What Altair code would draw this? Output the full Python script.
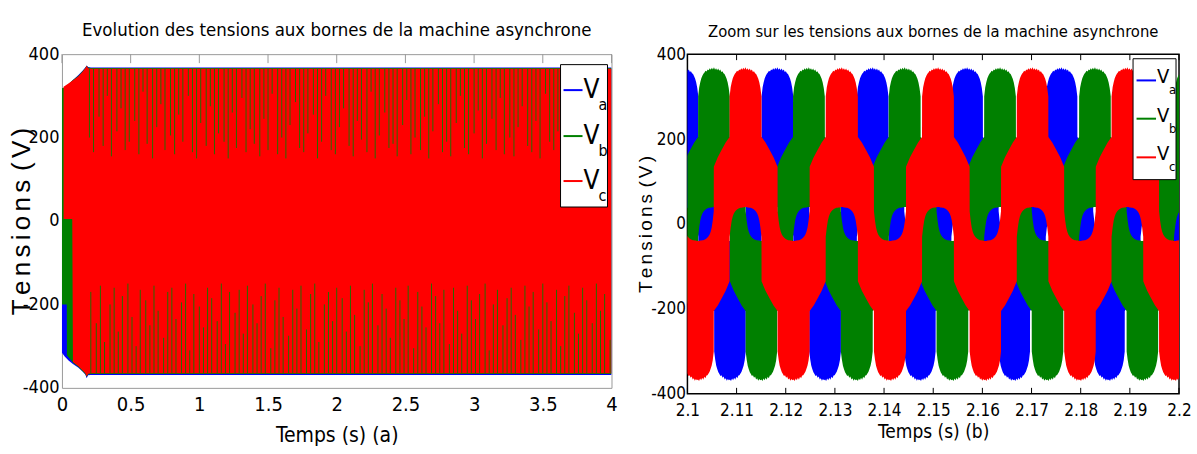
import altair as alt
import pandas as pd

FONT = "Liberation Sans Narrow, Arial Narrow, DejaVu Sans Condensed, Liberation Sans, Arial, sans-serif"
WIDE = "Liberation Sans, Arial, sans-serif"
BLUE, GREEN, RED = "#0000FF", "#008000", "#FF0000"
SP = "\u2006"

# ------------------------------------------------------------------
# (b) zoom 2.1 - 2.2 s : PWM band of each phase voltage
# ------------------------------------------------------------------
# centre of each positive block (s)
va_peaks = [2.0990, 2.1183, 2.1377, 2.1569, 2.1761, 2.1954]
vb_peaks = [2.0861, 2.1054, 2.1247, 2.1442, 2.1636, 2.1829, 2.2022]
vc_peaks = [2.0925, 2.1118, 2.1314, 2.1510, 2.1702, 2.1895, 2.2088]

# band of one phase over one period: electrical angle (deg, 0 = block centre),
# lower and upper edge of the switching band (V)
env_angle = [-180, -176, -172, -168, -164, -160, -156, -152, -148, -144, -140, -136, -132, -128, -124, -120.2,
             -120, -105, -90, -75, -60.2,
             -60, -56, -52, -48, -44, -40, -36, -32, -28, -24, -20, -16, -12, -8, -4, 0,
             4, 8, 12, 16, 20, 24, 28, 32, 36, 40, 44, 48, 52, 56, 60,
             60.2, 75, 90, 105, 120,
             120.2, 124, 128, 132, 136, 140, 144, 148, 152, 156, 160, 164, 168, 172, 176, 180]
env_lo = [-366, -370, -364, -368, -362, -367, -360, -363, -357, -356, -352, -348, -341, -333, -321, -300,
          -205, -192, -175, -157, -135,
          -30, -8, 8, 18, 25, 29, 32, 34, 36, 37, 38, 38, 39, 39, 40, 40,
          40, 39, 39, 38, 38, 37, 36, 34, 32, 29, 25, 18, 8, -8, -30,
          -135, -157, -175, -192, -205,
          -300, -319, -334, -342, -349, -353, -358, -356, -362, -359, -366, -363, -369, -365, -368, -366]
env_hi = [-40, -40, -39, -39, -38, -38, -37, -36, -34, -32, -29, -25, -18, -8, 8, 30,
          135, 157, 175, 192, 205,
          300, 322, 334, 343, 349, 354, 357, 361, 359, 364, 362, 367, 363, 368, 364, 369,
          363, 367, 362, 366, 361, 364, 358, 360, 355, 353, 348, 342, 333, 320, 300,
          205, 192, 175, 157, 135,
          30, 8, -8, -18, -25, -29, -32, -34, -36, -37, -38, -38, -39, -39, -40, -40]


def band_table(peaks):
    rows = []
    n = len(peaks)
    for k, c in enumerate(peaks):
        left = (c - peaks[k - 1]) / 2 if k > 0 else (peaks[1] - peaks[0]) / 2
        right = (peaks[k + 1] - c) / 2 if k < n - 1 else (c - peaks[k - 1]) / 2
        for a, lo, hi in zip(env_angle, env_lo, env_hi):
            half = left if a < 0 else right
            rows.append({"t": c + a / 180.0 * half, "lo": lo, "hi": hi})
    return pd.DataFrame(rows)


# ------------------------------------------------------------------
# (a) 0 - 4 s : envelopes of the three phases + visible stripes
# ------------------------------------------------------------------
a_blue_t = [0.0, 0.02, 0.05, 0.08, 0.12, 0.15, 0.17, 0.18, 0.19, 0.21, 4.0]
a_blue_hi = [302, 318, 328, 338, 350, 360, 368, 373, 369, 368, 368]
a_blue_lo = [-316, -325, -335, -343, -352, -361, -368, -377, -370, -369, -369]

a_green_t = [0.0, 0.035, 0.036, 0.08, 0.12, 0.15, 0.17, 0.18, 0.19, 0.21, 4.0]
a_green_hi = [318, 322, 325, 338, 348, 359, 367, 372, 368, 367, 367]
a_green_lo = [-200, -200, -322, -340, -350, -360, -367, -374, -368, -367, -367]

a_red_t = [0.012, 0.05, 0.075, 0.08, 0.12, 0.15, 0.17, 0.18, 0.19, 0.21, 4.0]
a_red_hi = [322, 330, 336, 337, 347, 358, 366, 372, 366, 365, 365]
a_red_lo = [5, 5, 5, -338, -348, -358, -365, -373, -366, -365, -365]

up_t = [0.20, 0.23, 0.27, 0.30, 0.33, 0.36, 0.40, 0.43, 0.46, 0.49, 0.53, 0.56, 0.59, 0.62, 0.66, 0.69,
        0.72, 0.75, 0.79, 0.82, 0.85, 0.88, 0.92, 0.95, 0.98, 1.01, 1.05, 1.08, 1.11, 1.14, 1.18, 1.21,
        1.24, 1.27, 1.31, 1.34, 1.37, 1.40, 1.44, 1.47, 1.50, 1.53, 1.57, 1.60, 1.63, 1.66, 1.70, 1.73,
        1.76, 1.79, 1.83, 1.86, 1.89, 1.92, 1.96, 1.99, 2.02, 2.05, 2.09, 2.12, 2.15, 2.18, 2.22, 2.25,
        2.28, 2.31, 2.35, 2.38, 2.41, 2.44, 2.48, 2.51, 2.54, 2.57, 2.61, 2.64, 2.67, 2.70, 2.74, 2.77,
        2.80, 2.83, 2.87, 2.90, 2.93, 2.96, 3.00, 3.03, 3.06, 3.09, 3.13, 3.16, 3.19, 3.22, 3.26, 3.29,
        3.32, 3.35, 3.39, 3.42, 3.45, 3.48, 3.52, 3.55, 3.58, 3.61, 3.65, 3.68, 3.71, 3.74, 3.78, 3.81,
        3.84, 3.87, 3.91, 3.94, 3.97]
up_end = [200, 165, 250, 180, 300, 155, 215, 270, 170, 190, 240, 160, 310, 185, 150, 225, 280, 170, 205, 160,
          255, 190, 300, 165, 150, 235, 180, 275, 160, 210, 190, 150, 260, 175, 295, 165, 220, 185, 155, 245,
          170, 305, 160, 200, 150, 230, 285, 175, 165, 210, 255, 150, 190, 300, 170, 160, 225, 270, 180, 155,
          240, 195, 165, 310, 150, 205, 260, 175, 185, 155, 230, 290, 160, 200, 170, 250, 150, 215, 280, 165,
          190, 155, 235, 300, 175, 160, 210, 265, 150, 185, 245, 170, 295, 160, 200, 155, 225, 275, 180, 165,
          240, 150, 305, 190, 170, 215, 260, 155, 185, 230, 165, 290, 150, 205, 250, 175, 160]

dn_t = [0.21, 0.25, 0.28, 0.31, 0.35, 0.38, 0.41, 0.44, 0.48, 0.51, 0.54, 0.57, 0.61, 0.64, 0.67, 0.70,
        0.74, 0.77, 0.80, 0.83, 0.87, 0.90, 0.93, 0.96, 1.00, 1.03, 1.06, 1.09, 1.13, 1.16, 1.19, 1.22,
        1.26, 1.29, 1.32, 1.35, 1.39, 1.42, 1.45, 1.48, 1.52, 1.55, 1.58, 1.61, 1.65, 1.68, 1.71, 1.74,
        1.78, 1.81, 1.84, 1.87, 1.91, 1.94, 1.97, 2.00, 2.04, 2.07, 2.10, 2.13, 2.17, 2.20, 2.23, 2.26,
        2.30, 2.33, 2.36, 2.39, 2.43, 2.46, 2.49, 2.52, 2.56, 2.59, 2.62, 2.65, 2.69, 2.72, 2.75, 2.78,
        2.82, 2.85, 2.88, 2.91, 2.95, 2.98, 3.01, 3.04, 3.08, 3.11, 3.14, 3.17, 3.21, 3.24, 3.27, 3.30,
        3.34, 3.37, 3.40, 3.43, 3.47, 3.50, 3.53, 3.56, 3.60, 3.63, 3.66, 3.69, 3.73, 3.76, 3.79, 3.82,
        3.86, 3.89, 3.92, 3.95, 3.99]
dn_end = [-170, -245, -155, -290, -200, -160, -265, -180, -150, -230, -300, -165, -190, -250, -155, -215,
          -280, -170, -160, -235, -195, -150, -310, -175, -205, -255, -160, -185, -240, -150, -295, -170,
          -220, -165, -270, -155, -200, -245, -180, -150, -305, -190, -160, -230, -275, -165, -210, -155,
          -260, -175, -150, -290, -200, -170, -240, -160, -185, -265, -155, -225, -300, -165, -195, -150,
          -250, -175, -210, -280, -160, -190, -235, -155, -305, -170, -205, -255, -150, -180, -245, -165,
          -295, -160, -215, -270, -155, -190, -235, -175, -150, -310, -200, -165, -250, -185, -160, -225,
          -285, -155, -205, -170, -260, -150, -195, -240, -165, -300, -180, -155, -220, -270, -160, -190,
          -245, -150, -215, -175, -285]
stripe_top = 365

a_ticks = [0, 0.5, 1, 1.5, 2, 2.5, 3, 3.5, 4]
b_ticks = [2.1, 2.11, 2.12, 2.13, 2.14, 2.15, 2.16, 2.17, 2.18, 2.19, 2.2]
v_ticks = [-400, -200, 0, 200, 400]

# ------------------------------------------------------------------
# helpers
# ------------------------------------------------------------------
def legend_layers(box, line_x, line_ys, v_x, v_dy, sub_dx, sub_dy, v_size, sub_size):
    one = pd.DataFrame({"d": [0]})
    out = [alt.Chart(one).mark_rect(fill="white", stroke="black", strokeWidth=1).encode(
        x=alt.value(box[0]), x2=alt.value(box[1]), y=alt.value(box[2]), y2=alt.value(box[3]))]
    for ly, col, sub in zip(line_ys, [BLUE, GREEN, RED], ["a", "b", "c"]):
        out.append(alt.Chart(one).mark_rule(color=col, strokeWidth=2).encode(
            x=alt.value(line_x[0]), x2=alt.value(line_x[1]), y=alt.value(ly)))
        out.append(alt.Chart(one).mark_text(font=FONT, fontSize=v_size, align="left",
                                            baseline="alphabetic", color="black").encode(
            x=alt.value(v_x), y=alt.value(ly + v_dy), text=alt.value("V")))
        out.append(alt.Chart(one).mark_text(font=FONT, fontSize=sub_size, align="left",
                                            baseline="alphabetic", color="black").encode(
            x=alt.value(v_x + sub_dx), y=alt.value(ly + sub_dy), text=alt.value(sub)))
    return out


# ------------------------------------------------------------------
# panel (a)
# ------------------------------------------------------------------
W_A, H_A = 550, 334
xa = alt.X("t:Q", scale=alt.Scale(domain=[0, 4], nice=False, zero=False),
           axis=alt.Axis(values=a_ticks, title="Temps (s) (a)", labelExpr="datum.value",
                         labelFont=FONT, labelFontSize=20, labelColor="black", labelPadding=7,
                         titleFont=FONT, titleFontSize=21, titleFontWeight="normal", titleColor="black",
                         titlePadding=10, domain=False, ticks=False, grid=False, labelFlush=False))
ya = alt.Y("hi:Q", scale=alt.Scale(domain=[-400, 400], nice=False, zero=False),
           axis=alt.Axis(values=v_ticks, title=SP.join("Tensions") + SP + SP + SP.join("(V)"),
                         labelExpr="datum.value",
                         labelFont=FONT, labelFontSize=18, labelColor="black", labelPadding=3,
                         titleFont=WIDE, titleFontSize=26, titleFontWeight="normal", titleColor="black",
                         titleX=-40, titleY=H_A / 2, titleAlign="center", titleBaseline="middle",
                         domain=False, ticks=False, grid=False))

a_tick_df = pd.DataFrame({"t": a_ticks})
a_layers = [
    alt.Chart(a_tick_df).mark_rule(color="#9a9a9a", strokeWidth=1).encode(
        x=xa, y=alt.value(0), y2=alt.value(9)),
    alt.Chart(pd.DataFrame({"t": a_blue_t, "hi": a_blue_hi, "lo": a_blue_lo})).mark_area(
        color=BLUE, clip=True).encode(x=xa, y=ya, y2="lo:Q"),
    alt.Chart(pd.DataFrame({"t": a_green_t, "hi": a_green_hi, "lo": a_green_lo})).mark_area(
        color=GREEN, clip=True).encode(x=xa, y=ya, y2="lo:Q"),
    alt.Chart(pd.DataFrame({"t": a_red_t, "hi": a_red_hi, "lo": a_red_lo})).mark_area(
        color=RED, clip=True).encode(x=xa, y=ya, y2="lo:Q"),
    alt.Chart(pd.DataFrame({"t": up_t[:len(up_end)], "hi": [stripe_top] * min(len(up_t), len(up_end)),
                            "lo": up_end[:len(up_t)]})).mark_rule(
        color=GREEN, strokeWidth=1, opacity=0.85).encode(x=xa, y=ya, y2="lo:Q"),
    alt.Chart(pd.DataFrame({"t": dn_t[:len(dn_end)], "hi": dn_end[:len(dn_t)],
                            "lo": [-stripe_top] * min(len(dn_t), len(dn_end))})).mark_rule(
        color=GREEN, strokeWidth=1, opacity=0.85).encode(x=xa, y=ya, y2="lo:Q"),
]
a_layers += legend_layers(box=(499, 546, 10.5, 153), line_x=(502, 521), line_ys=(36, 82, 127),
                          v_x=522, v_dy=8, sub_dx=15, sub_dy=20, v_size=26, sub_size=16)

panel_a = alt.layer(*a_layers).properties(
    width=W_A, height=H_A,
    title=alt.TitleParams("Evolution des tensions aux bornes de la machine asynchrone", font=FONT,
                          fontSize=18.5, fontWeight="normal", color="black", frame="group",
                          anchor="middle", offset=6),
    view=alt.ViewBackground(stroke="#9a9a9a", strokeWidth=1),
)

# ------------------------------------------------------------------
# panel (b)
# ------------------------------------------------------------------
W_B, H_B = 492, 340
xb = alt.X("t:Q", scale=alt.Scale(domain=[2.1, 2.2], nice=False, zero=False),
           axis=alt.Axis(values=b_ticks, title="Temps (s) (b)", labelExpr="format(datum.value, '.2~f')",
                         labelFont=FONT, labelFontSize=17, labelColor="black", labelPadding=9,
                         titleFont=FONT, titleFontSize=19, titleFontWeight="normal", titleColor="black",
                         titlePadding=4, domain=False, ticks=False, grid=False, labelFlush=False))
yb = alt.Y("hi:Q", scale=alt.Scale(domain=[-400, 400], nice=False, zero=False),
           axis=alt.Axis(values=v_ticks, title=SP.join("Tensions") + SP + SP + SP.join("(V)"),
                         labelExpr="datum.value",
                         labelFont=FONT, labelFontSize=17, labelColor="black", labelPadding=2,
                         titleFont=WIDE, titleFontSize=19, titleFontWeight="normal", titleColor="black",
                         titleX=-42, titleY=H_B / 2, titleAlign="center", titleBaseline="middle",
                         domain=False, ticks=False, grid=False))

b_tick_df = pd.DataFrame({"t": b_ticks})
b_layers = [
    alt.Chart(b_tick_df).mark_rule(color="black", strokeWidth=1).encode(
        x=xb, y=alt.value(H_B), y2=alt.value(H_B - 6)),
    alt.Chart(b_tick_df).mark_rule(color="black", strokeWidth=1).encode(
        x=xb, y=alt.value(0), y2=alt.value(6)),
]
for peaks, col in [(va_peaks, BLUE), (vb_peaks, GREEN), (vc_peaks, RED)]:
    b_layers.append(alt.Chart(band_table(peaks)).mark_area(color=col, clip=True).encode(
        x=xb, y=yb, y2="lo:Q"))
b_layers += legend_layers(box=(446, 489, 4.6, 125.6), line_x=(449.5, 469), line_ys=(26.3, 64.6, 103.3),
                          v_x=470, v_dy=3, sub_dx=12, sub_dy=14, v_size=20, sub_size=13)

panel_b = alt.layer(*b_layers).properties(
    width=W_B, height=H_B,
    title=alt.TitleParams("Zoom sur les tensions aux bornes de la machine asynchrone", font=FONT,
                          fontSize=16.5, fontWeight="normal", color="black", frame="group",
                          anchor="middle", offset=5),
    view=alt.ViewBackground(stroke="black", strokeWidth=1.5),
)

chart = alt.hconcat(panel_a, panel_b, spacing=17).configure(
    padding={"left": 8, "top": 20, "right": 5, "bottom": 5},
    background="white",
)

chart.save("out.html", embed_options={"renderer": "svg", "actions": False})
